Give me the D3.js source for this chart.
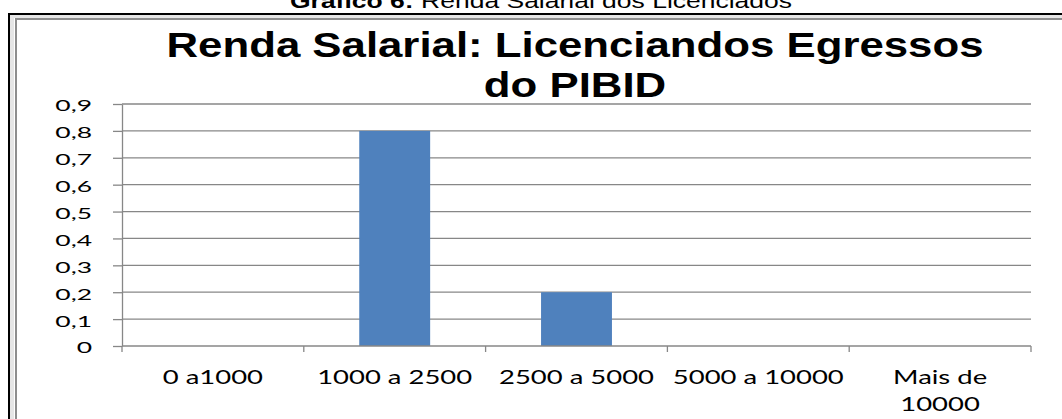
<!DOCTYPE html>
<html>
<head>
<meta charset="utf-8">
<script src="https://cdn.jsdelivr.net/npm/d3@7"></script>
<style>
  body { margin: 0; background: #fff; }
  svg { display: block; }
</style>
</head>
<body>
<div id="chart"></div>
<script>
// Chart data
var categories = ["0 a1000", "1000 a 2500", "2500 a 5000", "5000 a 10000", "Mais de 10000"];
var values = [0, 0.8, 0.2, 0, 0];
var tickLabels = [["0 a1000"], ["1000 a 2500"], ["2500 a 5000"], ["5000 a 10000"], ["Mais de", "10000"]];
var yTicks = [0, 0.1, 0.2, 0.3, 0.4, 0.5, 0.6, 0.7, 0.8, 0.9];
var titleLines = ["Renda Salarial: Licenciandos Egressos", "do PIBID"];
var captionBold = "Gráfico 6:";
var captionText = "Renda Salarial dos Licenciados";

var svgWidth = 1062;
var svgHeight = 419;

// plot area in page pixels
var plot = { left: 122, right: 1031, top: 104, bottom: 346 };

var svg = d3.select("#chart")
  .append("svg")
  .attr("width", svgWidth)
  .attr("height", svgHeight);

// stretch text horizontally (the source picture is widened)
function stretch(sel, k) {
  sel.each(function() {
    var len = this.getComputedTextLength();
    d3.select(this)
      .attr("textLength", len * k)
      .attr("lengthAdjust", "spacingAndGlyphs");
  });
}

// caption above the frame (cut off at the top, as in the source)
var capB = svg.append("text")
  .attr("y", 8)
  .style("font-family", "Liberation Sans, Arial, sans-serif")
  .style("font-size", "21px")
  .style("font-weight", "bold")
  .text(captionBold);
var capR = svg.append("text")
  .attr("y", 8)
  .style("font-family", "Liberation Sans, Arial, sans-serif")
  .style("font-size", "21px")
  .text(captionText);
var wB = capB.node().getComputedTextLength();
var wR = capR.node().getComputedTextLength();
var gap = 6;
var capK = (502 - gap * 1.25) / (wB + wR);
capB.attr("x", 290).attr("textLength", wB * capK).attr("lengthAdjust", "spacingAndGlyphs");
capR.attr("x", 290 + wB * capK + gap * 1.25).attr("textLength", wR * capK).attr("lengthAdjust", "spacingAndGlyphs");

// frame
svg.append("rect").attr("x", 8).attr("y", 13).attr("width", svgWidth - 8).attr("height", 2).attr("fill", "#000");
svg.append("rect").attr("x", 8).attr("y", 13).attr("width", 2).attr("height", svgHeight - 13).attr("fill", "#000");
svg.append("rect").attr("x", 10).attr("y", 15).attr("width", svgWidth - 10).attr("height", 3).attr("fill", "#e6e6e6");
svg.append("rect").attr("x", 10).attr("y", 15).attr("width", 4).attr("height", svgHeight - 15).attr("fill", "#e6e6e6");
svg.append("rect").attr("x", 15).attr("y", 18).attr("width", svgWidth - 15).attr("height", 2).attr("fill", "#8e8e8e");
svg.append("rect").attr("x", 15).attr("y", 18).attr("width", 2).attr("height", svgHeight - 18).attr("fill", "#8e8e8e");

// chart title
var title = svg.append("g")
  .style("font-family", "Liberation Sans, Arial, sans-serif")
  .style("font-size", "35px")
  .style("font-weight", "bold")
  .attr("text-anchor", "middle");
title.selectAll("text")
  .data(titleLines)
  .enter()
  .append("text")
  .attr("x", 575)
  .attr("y", (d, i) => 57 + i * 40)
  .text(d => d);
var titleK = 817 / title.select("text").node().getComputedTextLength();
stretch(title.selectAll("text"), titleK);

// scales
var xScale = d3.scaleBand()
  .domain(categories)
  .range([plot.left, plot.right])
  .paddingInner(0.61)
  .paddingOuter(0.305);

var yScale = d3.scaleLinear()
  .domain([0, 0.9])
  .range([plot.bottom, plot.top]);

var gridColor = "#878787";
var fmt = d3.formatLocale({ decimal: ",", thousands: ".", grouping: [3], currency: ["R$", ""] }).format(".1~f");

// gridlines
svg.append("g")
  .selectAll("line")
  .data(yTicks.filter(d => d > 0))
  .enter()
  .append("line")
  .attr("x1", plot.left)
  .attr("x2", plot.right)
  .attr("y1", d => yScale(d))
  .attr("y2", d => yScale(d))
  .attr("stroke", gridColor)
  .attr("stroke-width", 1.3);

// bars
svg.append("g")
  .selectAll("rect")
  .data(values)
  .enter()
  .append("rect")
  .attr("x", (d, i) => xScale(categories[i]))
  .attr("y", d => yScale(d))
  .attr("width", xScale.bandwidth())
  .attr("height", d => yScale(0) - yScale(d))
  .attr("fill", "#4f81bd");

// y axis
var leftAxis = d3.axisLeft(yScale)
  .tickValues(yTicks)
  .tickSize(9)
  .tickSizeOuter(0)
  .tickPadding(21)
  .tickFormat(fmt);

var yAxis = svg.append("g")
  .attr("transform", `translate(${plot.left}, 0)`)
  .call(leftAxis);
yAxis.select(".domain").attr("stroke", gridColor).attr("stroke-width", 1.3);
yAxis.selectAll(".tick line").attr("stroke", gridColor).attr("stroke-width", 1.3);
yAxis.selectAll(".tick text")
  .attr("dy", "0.45em")
  .attr("fill", "#000")
  .style("font-family", "Lato, Calibri, sans-serif")
  .style("font-size", "15.5px");
var yK = 36.7 / yAxis.selectAll(".tick text").filter(d => d === 0.9).node().getComputedTextLength();
stretch(yAxis.selectAll(".tick text"), yK);

// x axis line and boundary ticks
var step = xScale.step();
var bounds = d3.range(categories.length + 1).map(i => plot.left + i * step);
var xAxis = svg.append("g");
xAxis.append("line")
  .attr("x1", plot.left)
  .attr("x2", plot.right)
  .attr("y1", yScale(0))
  .attr("y2", yScale(0))
  .attr("stroke", gridColor)
  .attr("stroke-width", 1.3);
xAxis.selectAll(".xtick")
  .data(bounds)
  .enter()
  .append("line")
  .attr("class", "xtick")
  .attr("x1", d => d)
  .attr("x2", d => d)
  .attr("y1", yScale(0))
  .attr("y2", yScale(0) + 6)
  .attr("stroke", gridColor)
  .attr("stroke-width", 1.3);

// x labels (one text per line)
var xLabelRows = [];
tickLabels.forEach(function(lines, i) {
  lines.forEach(function(t, j) {
    xLabelRows.push({ cat: categories[i], text: t, line: j });
  });
});
var xLabels = xAxis.selectAll(".xlabel")
  .data(xLabelRows)
  .enter()
  .append("text")
  .attr("class", "xlabel")
  .attr("x", d => xScale(d.cat) + xScale.bandwidth() / 2)
  .attr("y", d => 384 + d.line * 27)
  .attr("text-anchor", "middle")
  .attr("fill", "#000")
  .style("font-family", "Lato, Calibri, sans-serif")
  .style("font-size", "19px")
  .text(d => d.text);
var xK = 155 / xLabels.filter(d => d.text === "1000 a 2500").node().getComputedTextLength();
stretch(xLabels, xK);
</script>
</body>
</html>
